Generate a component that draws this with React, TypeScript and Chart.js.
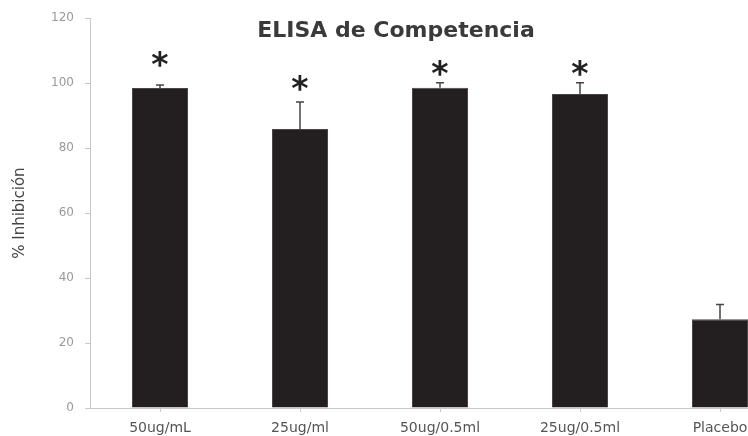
import React, { useEffect, useRef } from "react";
import { Chart, registerables } from "chart.js";

Chart.register(...registerables);

const categories = ["50ug/mL", "25ug/ml", "50ug/0.5ml", "25ug/0.5ml", "Placebo"];
const inhibition = [98.5, 85.9, 98.6, 96.7, 27.3];
const errorsUp = [0.9, 8.3, 1.5, 3.4, 4.6];
const significance = [107.4, 100.0, 104.6, 104.6, null];
const yTicks = [0, 20, 40, 60, 80, 100, 120];
const chartTitle = "ELISA de Competencia";
const yTitle = "% Inhibición";

const overlayPlugin = {
  id: "overlay",
  afterDatasetsDraw(chart: any) {
    const ctx = chart.ctx;
    const xs = chart.scales.x;
    const ys = chart.scales.y;
    ctx.save();
    // error bars (upper only)
    ctx.strokeStyle = "#444";
    ctx.lineWidth = 1.5;
    inhibition.forEach((v, i) => {
      const x = xs.getPixelForValue(i);
      const y0 = ys.getPixelForValue(v);
      const y1 = ys.getPixelForValue(v + errorsUp[i]);
      ctx.beginPath();
      ctx.moveTo(x, y0);
      ctx.lineTo(x, y1);
      ctx.moveTo(x - 4, y1);
      ctx.lineTo(x + 4, y1);
      ctx.stroke();
    });
    // significance asterisks
    ctx.fillStyle = "#222";
    ctx.font = "bold 33px 'DejaVu Sans'";
    ctx.textAlign = "center";
    ctx.textBaseline = "alphabetic";
    const m = ctx.measureText("*");
    const off = (m.actualBoundingBoxAscent - m.actualBoundingBoxDescent) / 2;
    significance.forEach((s, i) => {
      if (s == null) return;
      const x = xs.getPixelForValue(i);
      const y = ys.getPixelForValue(s);
      ctx.fillText("*", x, y + off);
    });
    // title
    ctx.fillStyle = "#3a3a3a";
    ctx.font = "bold 22px 'DejaVu Sans'";
    ctx.textAlign = "center";
    ctx.fillText(chartTitle, 396, 37);
    ctx.restore();
  },
};

export default function App() {
  const ref = useRef<HTMLCanvasElement | null>(null);
  useEffect(() => {
    if (!ref.current) return;
    const chart = new Chart(ref.current, {
      type: "bar",
      data: {
        labels: categories,
        datasets: [
          {
            data: inhibition,
            backgroundColor: "#231f20",
            borderColor: "#4a4647",
            borderWidth: 1,
            barPercentage: 0.4,
            categoryPercentage: 1,
          },
        ],
      },
      options: {
        responsive: false,
        maintainAspectRatio: false,
        animation: false,
        layout: { padding: { left: 0, top: 17, right: 20, bottom: 0 } },
        plugins: {
          legend: { display: false },
          tooltip: { enabled: false },
          title: { display: false },
        },
        scales: {
          x: {
            offset: true,
            grid: {
              display: true,
              drawOnChartArea: false,
              drawTicks: true,
              tickLength: 4,
              offset: false,
              color: "#c8c8c8",
            },
            border: { display: true, color: "#c8c8c8", width: 1 },
            ticks: {
              color: "#555",
              font: { family: "'DejaVu Sans'", size: 14 },
              padding: 8,
              maxRotation: 0,
              autoSkip: false,
            },
            afterFit: (s: any) => {
              s.height = 28;
            },
          },
          y: {
            min: 0,
            max: 120,
            afterBuildTicks: (s: any) => {
              s.ticks = yTicks.map((v) => ({ value: v }));
            },
            grid: {
              display: true,
              drawOnChartArea: false,
              drawTicks: true,
              tickLength: 5,
              color: "#c8c8c8",
            },
            border: { display: true, color: "#c8c8c8", width: 1 },
            ticks: {
              color: "#999",
              font: { family: "'DejaVu Sans'", size: 12 },
              padding: 11,
            },
            title: {
              display: true,
              text: yTitle,
              color: "#444",
              font: { family: "'DejaVu Sans'", size: 15 },
              padding: { top: 11, bottom: 0 },
            },
            afterFit: (s: any) => {
              s.width = 90;
            },
          },
        },
      },
      plugins: [overlayPlugin],
    });
    return () => chart.destroy();
  }, []);
  return (
    <div
      style={{
        position: "fixed",
        left: 0,
        top: 0,
        width: 748,
        height: 436,
        overflow: "hidden",
        background: "#fff",
      }}
    >
      <canvas ref={ref} width={810} height={436} style={{ display: "block" }} />
    </div>
  );
}
